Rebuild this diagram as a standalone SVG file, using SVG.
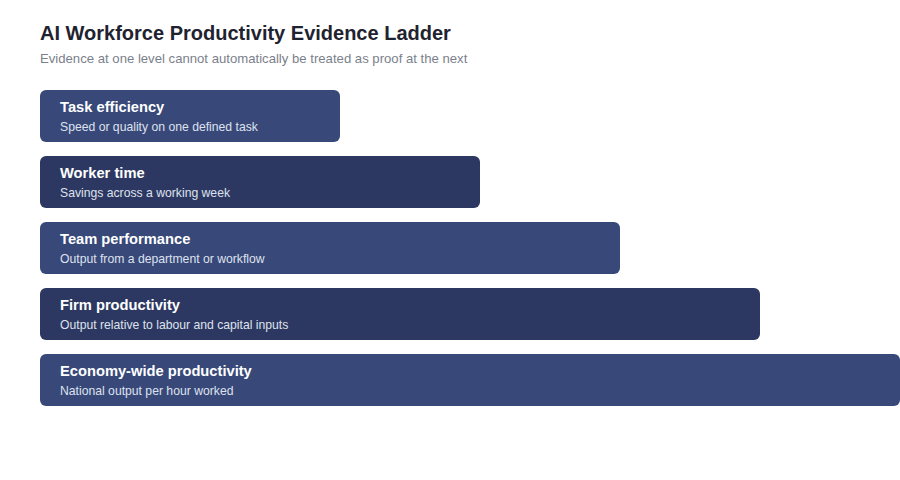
<svg xmlns="http://www.w3.org/2000/svg" width="900" height="480" viewBox="0 0 900 480">
<style>
text{font-family:"Liberation Sans",Arial,sans-serif}
.t{font-size:20px;font-weight:bold;fill:#1f2330}
.s{font-size:13.15px;fill:#7b7f8c}
.a{fill:#374879}
.b{fill:#2c3861}
.h{font-size:14.7px;font-weight:bold;fill:#ffffff}
.d{font-size:12.2px;fill:#dfe2ee}
</style>
<rect width="900" height="480" fill="#ffffff"/>
<text class="t" x="40" y="40">AI Workforce Productivity Evidence Ladder</text>
<text class="s" x="40" y="63">Evidence at one level cannot automatically be treated as proof at the next</text>
<g id="connectors"/>
<g id="task"><rect class="a" x="40" y="90" width="300" height="52" rx="6"/><text class="h" x="60" y="112">Task efficiency</text><text class="d" x="60" y="131">Speed or quality on one defined task</text></g>
<g id="worker"><rect class="b" x="40" y="156" width="440" height="52" rx="6"/><text class="h" x="60" y="178">Worker time</text><text class="d" x="60" y="197">Savings across a working week</text></g>
<g id="team"><rect class="a" x="40" y="222" width="580" height="52" rx="6"/><text class="h" x="60" y="244">Team performance</text><text class="d" x="60" y="263">Output from a department or workflow</text></g>
<g id="firm"><rect class="b" x="40" y="288" width="720" height="52" rx="6"/><text class="h" x="60" y="310">Firm productivity</text><text class="d" x="60" y="329">Output relative to labour and capital inputs</text></g>
<g id="economy"><rect class="a" x="40" y="354" width="860" height="52" rx="6"/><text class="h" x="60" y="376">Economy-wide productivity</text><text class="d" x="60" y="395">National output per hour worked</text></g>
</svg>
